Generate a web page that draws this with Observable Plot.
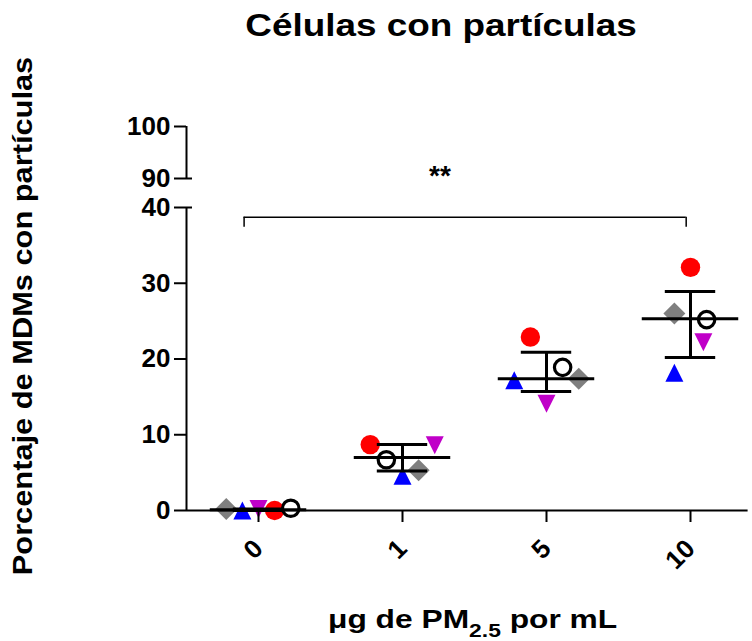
<!DOCTYPE html>
<html>
<head>
<meta charset="utf-8">
<script src="https://cdn.jsdelivr.net/npm/d3@7"></script>
<script src="https://cdn.jsdelivr.net/npm/@observablehq/plot@0.6"></script>
<style>
  body { margin: 0; background: #fff; }
  svg { display: block; }
</style>
</head>
<body>
<div id="chart"></div>
<script>
// ---- data ----
const doses = ["0", "1", "5", "10"];
const grayDiamond   = [0.2, 5.3, 17.4, 26.0];
const blueTriangle  = [0.0, 4.6, 17.2, 18.2];
const magentaDown   = [0.2, 8.6, 14.1, 22.2];
const redCircle     = [0.0, 8.7, 22.9, 32.1];
const openCircle    = [0.3, 6.7, 18.9, 25.2];
// column of each donor inside its dose group (scatter-dot layout)
const colDiamond  = [-2, 1, 2, -1];
const colTriangle = [-1, 0, -2, -1];
const colDown     = [0, 2, 0, 0.8];
const colRed      = [1, -2, -1, 0];
const colOpen     = [2, -1, 1, 1];
const medians = [0.1, 7.0, 17.4, 25.3];
const q1      = [0.0, 5.2, 15.7, 20.2];
const q3      = [0.2, 8.7, 20.9, 28.9];
const yTicks  = [0, 10, 20, 30, 40, 90, 100];
const yDomain = [0, 40, 90, 100];
const axisSegments = [[0, 40], [90, 100]];
const significance = [{from: -0.1, to: 2.97, y: 38.7, drop: 37.4, label: "**", labelX: 1.26, labelY: 90.4}];

// ---- symbols ----
const triUp = {draw(ctx, size) { const r = Math.sqrt(size / Math.PI); ctx.moveTo(0, -r); ctx.lineTo(r, r); ctx.lineTo(-r, r); ctx.closePath(); }};
const triDown = {draw(ctx, size) { const r = Math.sqrt(size / Math.PI); ctx.moveTo(0, r); ctx.lineTo(r, -r); ctx.lineTo(-r, -r); ctx.closePath(); }};
const rhombus = {draw(ctx, size) { const r = Math.sqrt(size / Math.PI); ctx.moveTo(0, -r); ctx.lineTo(r, 0); ctx.lineTo(0, r); ctx.lineTo(-r, 0); ctx.closePath(); }};

const step = 0.112;
const series = [
  {values: grayDiamond,  cols: colDiamond,  symbol: rhombus, fill: "#7f7f7f", stroke: "none", r: 11, sw: 0},
  {values: blueTriangle, cols: colTriangle, symbol: triUp,   fill: "#0000ff", stroke: "none", r: 9, sw: 0},
  {values: magentaDown,  cols: colDown,     symbol: triDown, fill: "#c000c8", stroke: "none", r: 9, sw: 0},
  {values: redCircle,    cols: colRed,      symbol: "circle", fill: "#ff0000", stroke: "none", r: 9.7, sw: 0},
  {values: openCircle,   cols: colOpen,     symbol: "circle", fill: "none", stroke: "#000", r: 8.2, sw: 3.2}
];

const summary = doses.map((d, i) => ({i, median: medians[i], q1: q1[i], q3: q3[i]}));

const dotMarks = series.map(s =>
  Plot.dot(doses.map((d, i) => ({x: i + s.cols[i] * step, y: s.values[i]})), {
    x: "x", y: "y", r: s.r, symbol: s.symbol, fill: s.fill, stroke: s.stroke, strokeWidth: s.sw
  })
);

const font = "'Liberation Sans', Arial, Helvetica, sans-serif";

const chart = Plot.plot({
  width: 752,
  height: 641,
  marginLeft: 186,
  marginRight: 752 - 186 - 3.9 * 144,
  marginTop: 100,
  marginBottom: 131,
  style: {background: "#fff", fontFamily: font, color: "#000"},
  x: {type: "linear", domain: [-0.5, 3.4]},
  y: {type: "linear", domain: yDomain, range: [510, 207, 178, 126]},
  marks: [
    ...dotMarks,
    // median and interquartile range
    Plot.ruleY(summary, {y: "median", x1: d => d.i - 0.335, x2: d => d.i + 0.335, stroke: "#000", strokeWidth: 3}),
    Plot.ruleY(summary, {y: "q1", x1: d => d.i - 0.175, x2: d => d.i + 0.175, stroke: "#000", strokeWidth: 3}),
    Plot.ruleY(summary, {y: "q3", x1: d => d.i - 0.175, x2: d => d.i + 0.175, stroke: "#000", strokeWidth: 3}),
    Plot.ruleX(summary, {x: "i", y1: "q1", y2: "q3", stroke: "#000", strokeWidth: 3}),
    // broken y axis
    Plot.ruleX(axisSegments, {x: -0.5, y1: d => d[0], y2: d => d[1], stroke: "#000", strokeWidth: 2}),
    Plot.ruleY([40, 90], {x1: -0.5, x2: -0.5 + 6 / 144, stroke: "#000", strokeWidth: 2}),
    Plot.axisY({ticks: yTicks, tickSize: 12, tickPadding: 4, tickFormat: d => String(d), fontSize: 26, fontWeight: "bold", strokeWidth: 2, label: null}),
    // x axis
    Plot.ruleY([0], {x1: -0.5, x2: 3.4, stroke: "#000", strokeWidth: 2}),
    Plot.axisX({ticks: [0, 1, 2, 3], tickSize: 12, tickFormat: () => "", strokeWidth: 2, label: null}),
    Plot.axisX({ticks: [0, 1, 2, 3], tickFormat: i => doses[i], tickSize: 0, tickPadding: 34, tickRotate: -45, dx: 0, fontSize: 26, fontWeight: "bold", label: null}),
    // significance bracket
    Plot.ruleY(significance, {y: "y", x1: "from", x2: "to", stroke: "#000", strokeWidth: 1.5}),
    Plot.ruleX(significance, {x: "from", y1: "y", y2: "drop", stroke: "#000", strokeWidth: 1.5}),
    Plot.ruleX(significance, {x: "to", y1: "y", y2: "drop", stroke: "#000", strokeWidth: 1.5}),
    Plot.text(significance, {x: "labelX", y: "labelY", text: "label", fontSize: 28, fontWeight: "bold", lineAnchor: "middle"})
  ]
});

const svg = d3.select(chart);
svg.append("text")
  .attr("transform", "translate(441,36) scale(1.19,1)")
  .attr("text-anchor", "middle")
  .attr("font-size", 31)
  .attr("font-weight", "bold")
  .attr("fill", "#000")
  .text("Células con partículas");

svg.append("text")
  .attr("transform", "translate(32,316) rotate(-90) scale(1.1,1)")
  .attr("text-anchor", "middle")
  .attr("font-size", 28)
  .attr("font-weight", "bold")
  .attr("fill", "#000")
  .text("Porcentaje de MDMs con partículas");

const xl = svg.append("text")
  .attr("transform", "translate(328,628) scale(1.27,1)")
  .attr("text-anchor", "start")
  .attr("font-size", 25)
  .attr("font-weight", "bold")
  .attr("fill", "#000");
xl.append("tspan").text("μg de PM");
xl.append("tspan").attr("font-size", 18).attr("dy", 9).text("2.5");
xl.append("tspan").attr("dy", -9).text(" por mL");

document.getElementById("chart").appendChild(chart);
</script>
</body>
</html>
